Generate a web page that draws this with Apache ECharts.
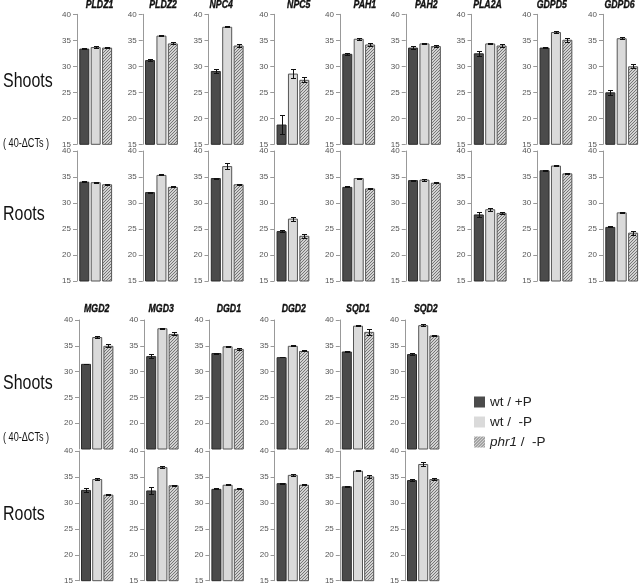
<!DOCTYPE html>
<html><head><meta charset="utf-8">
<script src="https://cdn.jsdelivr.net/npm/echarts@6/dist/echarts.min.js"></script>
<style>html,body{margin:0;padding:0;background:#fff}#c{width:640px;height:585px}</style>
</head><body><div id="c"></div>
<script>
const conditions = ['wt / +P', 'wt /  -P', 'phr1 /  -P'];
const yTicks = [15, 20, 25, 30, 35, 40];
const topGenes = ['PLDZ1', 'PLDZ2', 'NPC4', 'NPC5', 'PAH1', 'PAH2', 'PLA2A', 'GDPD5', 'GDPD6'];
const bottomGenes = ['MGD2', 'MGD3', 'DGD1', 'DGD2', 'SQD1', 'SQD2'];

// top block – shoots (40-ΔCT)
const topShootsWtPlusP    = [33.4, 31.2, 29.1, 18.8, 32.4, 33.6, 32.5, 33.6, 25.0];
const topShootsWtMinusP   = [33.7, 35.9, 37.6, 28.6, 35.3, 34.4, 34.4, 36.6, 35.4];
const topShootsPhr1MinusP = [33.6, 34.4, 34.0, 27.4, 34.2, 33.9, 34.0, 35.1, 30.0];
const topShootsErrWtPlusP    = [0.10, 0.15, 0.30, 1.90, 0.15, 0.25, 0.50, 0.05, 0.45];
const topShootsErrWtMinusP   = [0.20, 0.05, 0.10, 0.80, 0.15, 0.10, 0.10, 0.10, 0.15];
const topShootsErrPhr1MinusP = [0.15, 0.20, 0.35, 0.45, 0.20, 0.20, 0.35, 0.35, 0.40];

// top block – roots
const topRootsWtPlusP    = [34.1, 32.1, 34.8, 24.6, 33.1, 34.4, 27.8, 36.3, 25.4];
const topRootsWtMinusP   = [34.0, 35.4, 37.1, 27.0, 34.8, 34.5, 28.8, 37.2, 28.2];
const topRootsPhr1MinusP = [33.6, 33.1, 33.6, 23.7, 32.8, 33.9, 28.1, 35.7, 24.3];
const topRootsErrWtPlusP    = [0.10, 0.10, 0.10, 0.20, 0.10, 0.10, 0.40, 0.05, 0.10];
const topRootsErrWtMinusP   = [0.10, 0.10, 0.55, 0.40, 0.10, 0.20, 0.30, 0.15, 0.10];
const topRootsErrPhr1MinusP = [0.10, 0.10, 0.10, 0.35, 0.05, 0.10, 0.20, 0.10, 0.40];

// bottom block – shoots
const bottomShootsWtPlusP    = [31.5, 33.0, 33.6, 32.8, 33.9, 33.4];
const bottomShootsWtMinusP   = [36.7, 38.4, 34.9, 35.0, 38.9, 39.0];
const bottomShootsPhr1MinusP = [35.0, 37.3, 34.4, 34.0, 37.7, 37.0];
const bottomShootsErrWtPlusP    = [0.05, 0.40, 0.10, 0.05, 0.05, 0.15];
const bottomShootsErrWtMinusP   = [0.15, 0.05, 0.05, 0.10, 0.10, 0.15];
const bottomShootsErrPhr1MinusP = [0.30, 0.30, 0.20, 0.10, 0.60, 0.15];

// bottom block – roots
const bottomRootsWtPlusP    = [32.5, 32.4, 32.7, 33.8, 33.2, 34.4];
const bottomRootsWtMinusP   = [34.6, 36.9, 33.5, 35.4, 36.2, 37.5];
const bottomRootsPhr1MinusP = [31.6, 33.4, 32.7, 33.5, 35.1, 34.6];
const bottomRootsErrWtPlusP    = [0.35, 0.60, 0.10, 0.10, 0.10, 0.20];
const bottomRootsErrWtMinusP   = [0.10, 0.20, 0.05, 0.15, 0.10, 0.35];
const bottomRootsErrPhr1MinusP = [0.15, 0.05, 0.10, 0.10, 0.25, 0.10];

// ---------- layout / style ----------
const FONT = 'Liberation Sans';
function hatchCanvas() {
  const c = document.createElement('canvas'); c.width = 3; c.height = 3;
  const g = c.getContext('2d');
  g.fillStyle = '#d2d2d2'; g.fillRect(0, 0, 3, 3);
  g.fillStyle = '#767676';
  g.fillRect(2, 0, 1, 1); g.fillRect(1, 1, 1, 1); g.fillRect(0, 2, 1, 1);
  return c;
}
const hatchFill = { image: hatchCanvas(), repeat: 'repeat' };
const barStyles = [
  { color: '#4b4b4b', borderColor: '#2a2a2a', borderWidth: 1 },
  { color: '#dadada', borderColor: '#555555', borderWidth: 1 },
  { color: hatchFill, borderColor: '#555555', borderWidth: 1 }
];

const topTitleDx = [3.8, 1.6, -6, 5.8, 6.1, 1.8, -2.7, -4.2, -2.2];
const bottomTitleDx = [-0.5, -1.2, 1.3, 1.0, 0, 2.6];

const rows = [
  { genes: topGenes, vals: [topShootsWtPlusP, topShootsWtMinusP, topShootsPhr1MinusP],
    errs: [topShootsErrWtPlusP, topShootsErrWtMinusP, topShootsErrPhr1MinusP],
    top: 14.3, height: 130, axis0: 77, pitch: 65.75, gap: 1.6, width: 34.2, showMin: true, titleY: 5, titleDx: topTitleDx },
  { genes: topGenes, vals: [topRootsWtPlusP, topRootsWtMinusP, topRootsPhr1MinusP],
    errs: [topRootsErrWtPlusP, topRootsErrWtMinusP, topRootsErrPhr1MinusP],
    top: 151, height: 130, axis0: 77, pitch: 65.75, gap: 1.6, width: 34.2, showMin: true, titleY: null },
  { genes: bottomGenes, vals: [bottomShootsWtPlusP, bottomShootsWtMinusP, bottomShootsPhr1MinusP],
    errs: [bottomShootsErrWtPlusP, bottomShootsErrWtMinusP, bottomShootsErrPhr1MinusP],
    top: 320, height: 129, axis0: 79, pitch: 65.2, gap: 1.4, width: 33.6, showMin: false, titleY: 308.5, titleDx: bottomTitleDx },
  { genes: bottomGenes, vals: [bottomRootsWtPlusP, bottomRootsWtMinusP, bottomRootsPhr1MinusP],
    errs: [bottomRootsErrWtPlusP, bottomRootsErrWtMinusP, bottomRootsErrPhr1MinusP],
    top: 451, height: 129.7, axis0: 79, pitch: 65.2, gap: 1.4, width: 33.6, showMin: true, titleY: null }
];

const grid = [], xAxis = [], yAxis = [], series = [], graphic = [];

function errorBar(params, api) {
  const j = api.value(0), v = api.value(1), e = api.value(2);
  const p1 = api.coord([j, v + e]), p2 = api.coord([j, v - e]);
  const x = Math.round(p1[0]) + 0.5;
  const y1 = Math.round(p1[1]) + 0.5, y2 = Math.round(p2[1]) + 0.5;
  const w = 2.5, st = { stroke: '#111', lineWidth: 1 };
  return { type: 'group', children: [
    { type: 'line', shape: { x1: x, y1: y1, x2: x, y2: y2 }, style: st },
    { type: 'line', shape: { x1: x - w, y1: y1, x2: x + w, y2: y1 }, style: st },
    { type: 'line', shape: { x1: x - w, y1: y2, x2: x + w, y2: y2 }, style: st }
  ]};
}

rows.forEach(row => {
  row.genes.forEach((gene, i) => {
    const k = grid.length;
    const left = row.axis0 + i * row.pitch + row.gap;
    grid.push({ left: left, top: row.top, width: row.width, height: row.height });
    xAxis.push({ type: 'category', gridIndex: k, data: conditions, show: false });
    yAxis.push({
      type: 'value', gridIndex: k, min: yTicks[0], max: yTicks[yTicks.length - 1], interval: yTicks[1] - yTicks[0],
      offset: row.gap,
      axisLine: { show: true, lineStyle: { color: '#999' } },
      axisTick: { show: true, length: 4, lineStyle: { color: '#999' } },
      axisLabel: { fontSize: 8, color: '#555', margin: 6, fontFamily: FONT, showMinLabel: row.showMin },
      splitLine: { show: false }
    });
    series.push({
      type: 'bar', xAxisIndex: k, yAxisIndex: k, barWidth: 10, silent: true,
      data: row.vals.map((arr, j) => ({ value: arr[i], itemStyle: barStyles[j] }))
    });
    series.push({
      type: 'custom', xAxisIndex: k, yAxisIndex: k, silent: true, z: 5,
      renderItem: errorBar,
      encode: { x: 0, y: 1 },
      data: row.vals.map((arr, j) => [j, arr[i], row.errs[j][i]])
    });
    if (row.titleY !== null) {
      graphic.push({
        type: 'text', x: left + row.width / 2 + row.titleDx[i], y: row.titleY, scaleX: 0.76,
        style: { text: gene, fontSize: 11.5, fontWeight: 'bold', fontStyle: 'italic', fontFamily: FONT,
                 fill: '#111', stroke: '#111', lineWidth: 0.4, align: 'center', verticalAlign: 'middle' }
      });
    }
  });
});

// hidden grid that only carries the legend entries
const lk = grid.length;
grid.push({ left: 630, top: 575, width: 5, height: 5, show: false });
xAxis.push({ type: 'category', gridIndex: lk, show: false, data: ['x'] });
yAxis.push({ type: 'value', gridIndex: lk, show: false });
conditions.forEach((c, j) => series.push({ type: 'bar', name: c, xAxisIndex: lk, yAxisIndex: lk, data: [], itemStyle: barStyles[j] }));

const sideLabels = [
  { text: 'Shoots', y: 81, size: 21 }, { text: '( 40-ΔCTs )', y: 144, size: 12 }, { text: 'Roots', y: 214, size: 21 },
  { text: 'Shoots', y: 383, size: 21 }, { text: '( 40-ΔCTs )', y: 438, size: 12 }, { text: 'Roots', y: 514, size: 21 }
];
sideLabels.forEach(s => graphic.push({
  type: 'text', x: 3, y: s.y, scaleX: 0.76,
  style: { text: s.text, fontSize: s.size, fontFamily: FONT, fill: '#111', align: 'left', verticalAlign: 'middle' }
}));

const chart = echarts.init(document.getElementById('c'), null, { renderer: 'canvas' });
chart.setOption({
  animation: false,
  backgroundColor: '#fff',
  grid, xAxis, yAxis, series, graphic,
  legend: {
    data: conditions, orient: 'vertical', left: 469, top: 390, icon: 'rect', padding: 5,
    itemWidth: 11, itemHeight: 11, itemGap: 6, selectedMode: false,
    itemStyle: { borderWidth: 0 },
    formatter: n => n.indexOf('phr1') === 0 ? '{i|phr1}' + n.slice(4) : n,
    textStyle: { fontSize: 13.5, color: '#222', fontFamily: FONT, lineHeight: 11,
                 rich: { i: { fontStyle: 'italic', fontSize: 13.5, fontFamily: FONT, lineHeight: 11 } } }
  }
});
</script></body></html>
